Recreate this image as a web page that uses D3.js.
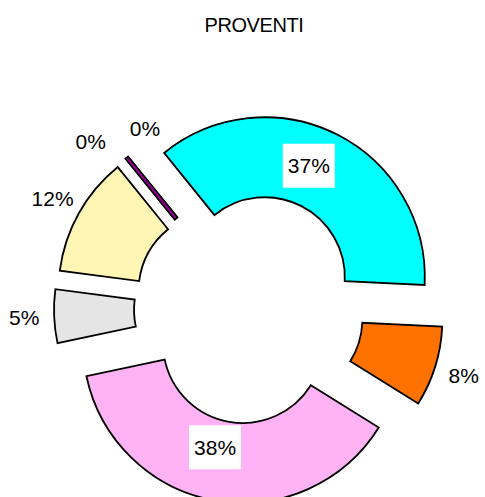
<!DOCTYPE html>
<html lang="it">
<head>
    <meta charset="UTF-8">
    <title>PROVENTI</title>
    <script src="https://d3js.org/d3.v7.min.js"></script>
    <style>
        body {
            margin: 0;
            background-color: #ffffff;
            font-family: "Liberation Sans", Arial, sans-serif;
        }
        .slice path {
            stroke: #000;
            stroke-width: 1.8px;
            stroke-linejoin: miter;
        }
        .label {
            font-size: 21px;
            fill: #000;
            text-anchor: middle;
        }
        .title {
            font-size: 20px;
            text-anchor: middle;
            letter-spacing: -0.4px;
        }
    </style>
</head>
<body>
    <svg id="chart"></svg>

    <script>
        // data (percent of total)
        const categories = ["Voce 1", "Voce 2", "Voce 3", "Voce 4", "Voce 5", "Voce 6", "Voce 7"];
        const values = [36.6, 8.1, 37.8, 5.4, 12.1, 0, 0];
        const colors = ["#00ffff", "#ff7200", "#ffb3f5", "#e5e5e5", "#fff5b4", "#ffffff", "#990099"];

        const width = 485;
        const height = 497;
        const cx = 249, cy = 308.5;
        const outerR = 160, innerR = 80;
        const explode = 35;
        const rad = Math.PI / 180;

        const svg = d3.select("#chart")
            .attr("width", width)
            .attr("height", height);

        svg.append("text")
            .attr("class", "title")
            .attr("x", 254)
            .attr("y", 31.5)
            .text("PROVENTI");

        const pie = d3.pie()
            .sort(null)
            .value(d => d)
            .startAngle(-39 * rad)
            .endAngle(321 * rad);

        const arc = d3.arc()
            .innerRadius(innerR)
            .outerRadius(outerR);

        const slices = pie(values).map((d, i) => {
            const mid = (d.startAngle + d.endAngle) / 2;
            return {
                arc: d,
                name: categories[i],
                color: colors[i],
                mid: mid,
                ox: cx + explode * Math.sin(mid),
                oy: cy - explode * Math.cos(mid)
            };
        });

        const g = svg.selectAll(".slice")
            .data(slices)
          .enter().append("g")
            .attr("class", "slice")
            .attr("transform", d => `translate(${d.ox},${d.oy})`);

        // normal slices
        g.filter(d => d.arc.value > 0)
          .append("path")
            .attr("d", d => arc(d.arc))
            .attr("fill", d => d.color);

        // zero slices show up as a thin outlined spoke
        const zero = g.filter(d => d.arc.value === 0);
        const spoke = (d, rr) => [rr * Math.sin(d.arc.startAngle), -rr * Math.cos(d.arc.startAngle)];
        zero.append("line")
            .attr("x1", d => spoke(d, innerR)[0]).attr("y1", d => spoke(d, innerR)[1])
            .attr("x2", d => spoke(d, outerR)[0]).attr("y2", d => spoke(d, outerR)[1])
            .attr("stroke", "#000")
            .attr("stroke-width", 5);
        zero.append("line")
            .attr("x1", d => spoke(d, innerR + 1.5)[0]).attr("y1", d => spoke(d, innerR + 1.5)[1])
            .attr("x2", d => spoke(d, outerR - 1.5)[0]).attr("y2", d => spoke(d, outerR - 1.5)[1])
            .attr("stroke", d => d.color)
            .attr("stroke-width", 2);

        // labels: big slices inside with a white box, small ones outside
        const fmt = v => Math.round(v) + "%";
        let zeroCount = 0;
        slices.forEach(d => {
            const v = d.arc.value;
            if (v > 20) {
                const c = d3.arc().innerRadius(innerR).outerRadius(outerR - 10).centroid(d.arc);
                const lg = svg.append("g")
                    .attr("transform", `translate(${d.ox + c[0] - 8},${d.oy + c[1] - 9})`);
                const t = lg.append("text")
                    .attr("class", "label")
                    .attr("dy", "0.35em")
                    .text(fmt(v));
                const bb = t.node().getBBox();
                lg.insert("rect", "text")
                    .attr("x", bb.x - 5)
                    .attr("y", -22)
                    .attr("width", bb.width + 10)
                    .attr("height", 44)
                    .attr("fill", "#fff");
            } else {
                let a = d.mid, rr = 225;
                if (v === 0) {
                    // spread the labels of the empty slices apart
                    a = d.arc.startAngle + (zeroCount === 0 ? -4.5 : 9) * rad;
                    rr = zeroCount === 0 ? 230 : 208;
                    zeroCount++;
                }
                svg.append("text")
                    .attr("class", "label")
                    .attr("x", cx + rr * Math.sin(a))
                    .attr("y", cy - rr * Math.cos(a))
                    .attr("dy", "0.35em")
                    .text(fmt(v));
            }
        });
    </script>
</body>
</html>
